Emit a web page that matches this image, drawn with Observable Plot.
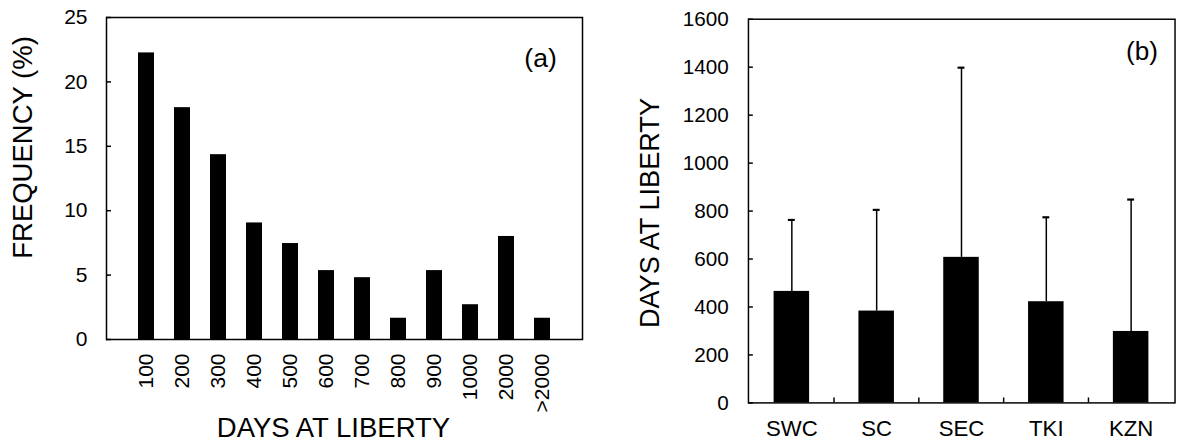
<!DOCTYPE html>
<html>
<head>
<meta charset="utf-8">
<script src="https://cdn.jsdelivr.net/npm/d3@7"></script>
<script src="https://cdn.jsdelivr.net/npm/@observablehq/plot@0.6"></script>
<style>
  html, body { margin: 0; padding: 0; background: #fff; overflow: hidden; }
  #wrap { position: relative; width: 1177px; height: 446px; overflow: hidden; background: #fff; }
  #wrap > div { position: absolute; top: 0; }
</style>
</head>
<body>
<div id="wrap"><div id="pa" style="left:0px"></div><div id="pb" style="left:600px"></div></div>
<script>
// Panel (a): frequency of days at liberty
const libertyBins = ["100", "200", "300", "400", "500", "600", "700", "800", "900", "1000", "2000", ">2000"];
const frequencyPct = [22.25, 18.0, 14.35, 9.05, 7.45, 5.35, 4.8, 1.65, 5.35, 2.7, 8.0, 1.65];
const freqTicks = [0, 5, 10, 15, 20, 25];

// Panel (b): mean days at liberty by region, with SD
const regions = ["SWC", "SC", "SEC", "TKI", "KZN"];
const meanDays = [465, 383, 607, 422, 298];
const sdDays = [298, 422, 791, 352, 550];
const daysTicks = [0, 200, 400, 600, 800, 1000, 1200, 1400, 1600];

const FONT = "'Liberation Sans', Arial, Helvetica, sans-serif";

const freqData = libertyBins.map((b, i) => ({bin: b, pct: frequencyPct[i]}));
const regionData = regions.map((r, i) => ({region: r, mean: meanDays[i], upper: meanDays[i] + sdDays[i]}));

// ---- Panel (a) ----
{
  const W = 600, H = 446, mL = 106, mR = 18, mT = 17, mB = 107;
  const fW = W - mL - mR;
  const chart = Plot.plot({
    width: W, height: H,
    marginLeft: mL, marginRight: mR, marginTop: mT, marginBottom: mB,
    style: {fontFamily: FONT, fontSize: "21px", background: "white", color: "black", overflow: "visible"},
    x: {type: "band", domain: libertyBins, paddingInner: 0.56, paddingOuter: 0.78, align: 0.5, axis: null},
    y: {domain: [0, 25], axis: null},
    marks: [
      Plot.barY(freqData, {x: "bin", y: "pct", fill: "black"}),
      Plot.frame({stroke: "black", strokeWidth: 1.5}),
      Plot.tickY(freqTicks, {y: d => d, insetRight: fW - 5, stroke: "black", strokeWidth: 1.5}),
      Plot.axisY(freqTicks, {tickSize: 0, tickPadding: 19, label: null, fontSize: 21, tickFormat: d => String(d)}),
      Plot.text(libertyBins, {x: d => d, frameAnchor: "bottom", dy: 14, rotate: -90, textAnchor: "end", lineAnchor: "middle", fontSize: 21, fill: "black"}),
      Plot.text(["DAYS AT LIBERTY"], {frameAnchor: "bottom", dx: -11, dy: 89, textAnchor: "middle", lineAnchor: "middle", fontSize: 27.5, fill: "black"}),
      Plot.text(["FREQUENCY (%)"], {frameAnchor: "left", dx: -83, dy: -31, rotate: -90, textAnchor: "middle", lineAnchor: "middle", fontSize: 27.5, fill: "black"}),
      Plot.text(["(a)"], {frameAnchor: "top-right", dx: -42, dy: 41, textAnchor: "middle", lineAnchor: "middle", fontSize: 26.5, fill: "black"})
    ]
  });
  document.getElementById("pa").appendChild(chart);
}

// ---- Panel (b) ----
{
  const W = 585, H = 446, mL = 150, mR = 2.5, mT = 19, mB = 38;
  const fW = W - mL - mR, fH = H - mT - mB;
  const step = fW / regions.length;
  const chart = Plot.plot({
    width: W, height: H,
    marginLeft: mL, marginRight: mR, marginTop: mT, marginBottom: mB,
    style: {fontFamily: FONT, fontSize: "21px", background: "white", color: "black", overflow: "visible"},
    x: {type: "band", domain: regions, paddingInner: 0.584, paddingOuter: 0.292, align: 0.5, axis: null},
    y: {domain: [0, 1600], axis: null},
    marks: [
      Plot.ruleX(regionData, {x: "region", y1: "mean", y2: "upper", stroke: "black", strokeWidth: 1.5}),
      Plot.tickY(regionData, {x: "region", y: "upper", insetLeft: 14.5, insetRight: 14.5, stroke: "black", strokeWidth: 2.2}),
      Plot.barY(regionData, {x: "region", y: "mean", fill: "black"}),
      Plot.frame({stroke: "black", strokeWidth: 1.5}),
      Plot.tickY(daysTicks, {y: d => d, insetRight: fW - 5, stroke: "black", strokeWidth: 1.5}),
      Plot.tickX(regions.slice(1), {x: d => d, dx: -step / 2, insetTop: fH - 5, stroke: "black", strokeWidth: 1.5}),
      Plot.axisY(daysTicks, {tickSize: 0, tickPadding: 20, label: null, fontSize: 21, tickFormat: d => String(d)}),
      Plot.axisX(regions, {tickSize: 0, tickPadding: 18, label: null, fontSize: 22.5}),
      Plot.text(["DAYS AT LIBERTY"], {frameAnchor: "left", dx: -100, dy: 2, rotate: -90, textAnchor: "middle", lineAnchor: "middle", fontSize: 27.5, fill: "black"}),
      Plot.text(["(b)"], {frameAnchor: "top-right", dx: -33.5, dy: 33, textAnchor: "middle", lineAnchor: "middle", fontSize: 26.5, fill: "black"})
    ]
  });
  document.getElementById("pb").appendChild(chart);
}
</script>
</body>
</html>
